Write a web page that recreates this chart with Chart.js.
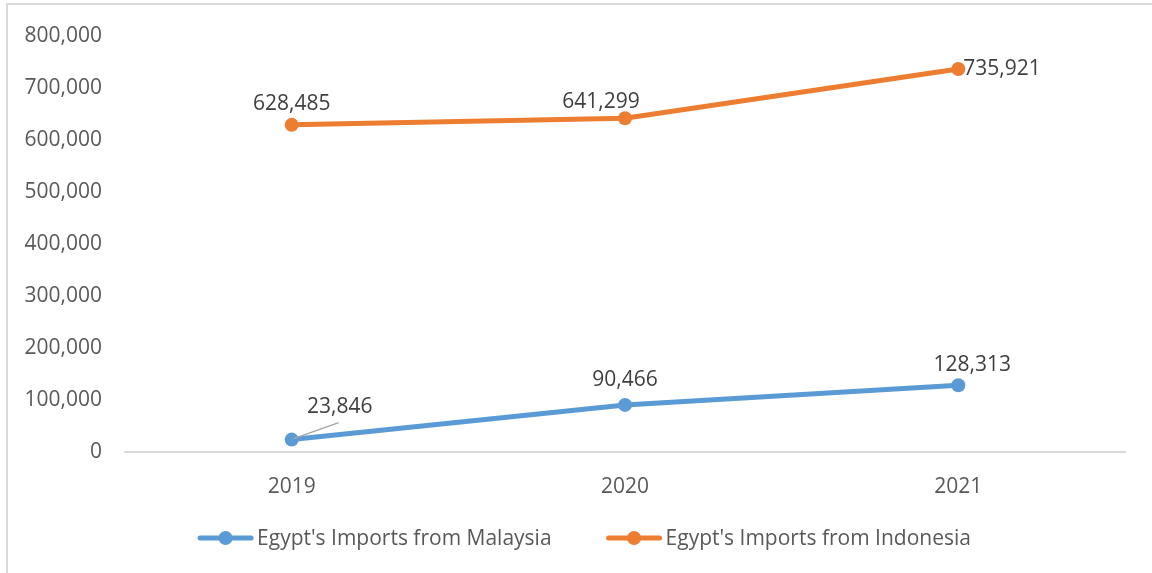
<!DOCTYPE html>
<html>
<head>
<meta charset="utf-8">
<script src="https://cdn.jsdelivr.net/npm/chart.js@4"></script>
<style>
    body { margin: 0; background: #ffffff; }
    #frame {
        position: absolute; left: 6px; top: 3px; width: 1146px; height: 570px;
        border-left: 2px solid #d9d9d9; border-top: 2px solid #d9d9d9;
    }
    #wrap { position: absolute; left: 0; top: 0; width: 1152px; height: 573px; }
</style>
</head>
<body>
<div id="frame"></div>
<div id="wrap"><canvas id="myChart" width="1152" height="573"></canvas></div>
<script>
// Yearly import values
const years = ["2019", "2020", "2021"];
const malaysia = [23846, 90466, 128313];
const indonesia = [628485, 641299, 735921];
const yTicks = [0, 100000, 200000, 300000, 400000, 500000, 600000, 700000, 800000];

const blue = "#5b9bd5";
const orange = "#ed7d31";
const fontFamily = "'Open Sans', 'Noto Sans', sans-serif";
const fontSize = 21;

// Where each value label sits relative to its point
const labelPlacement = [
    [{ dx: 48, dy: -33, leader: true }, { dx: 0, dy: -25 }, { dx: 14, dy: -20 }],
    [{ dx: 0, dy: -21 }, { dx: -24, dy: -16 }, { dx: 5, dy: 0, align: "left" }]
];

function fmt(v) {
    return v.toLocaleString("en-US");
}

// Value labels next to each point, one with a leader line
const valueLabels = {
    id: "valueLabels",
    afterDatasetsDraw(chart) {
        const ctx = chart.ctx;
        ctx.save();
        ctx.font = fontSize + "px " + fontFamily;
        ctx.fillStyle = "#404040";
        ctx.textBaseline = "middle";
        chart.data.datasets.forEach((ds, i) => {
            const meta = chart.getDatasetMeta(i);
            meta.data.forEach((pt, j) => {
                const p = labelPlacement[i][j];
                const x = pt.x + p.dx;
                const y = pt.y + p.dy;
                if (p.leader) {
                    ctx.strokeStyle = "#a6a6a6";
                    ctx.lineWidth = 1.5;
                    ctx.beginPath();
                    ctx.moveTo(pt.x + 2, pt.y - 1);
                    ctx.lineTo(x - 1, y + 16);
                    ctx.stroke();
                }
                ctx.textAlign = p.align || "center";
                ctx.fillText(fmt(ds.data[j]), x, y);
            });
        });
        ctx.restore();
    }
};

// Legend row under the axis: line-with-dot symbol then the series name
const lineLegend = {
    id: "lineLegend",
    afterDraw(chart) {
        const ctx = chart.ctx;
        const iconW = 57, textGap = 3, itemGap = 54, y = 538;
        ctx.save();
        ctx.font = fontSize + "px " + fontFamily;
        const items = chart.data.datasets.map(ds => ({
            text: ds.label,
            color: ds.borderColor,
            w: ctx.measureText(ds.label).width
        }));
        let total = itemGap * (items.length - 1);
        items.forEach(it => { total += iconW + textGap + it.w; });
        let x = chart.width / 2 + 8 - total / 2;
        items.forEach(it => {
            ctx.strokeStyle = it.color;
            ctx.fillStyle = it.color;
            ctx.lineWidth = 5;
            ctx.lineCap = "round";
            ctx.beginPath();
            ctx.moveTo(x + 3, y);
            ctx.lineTo(x + iconW - 3, y);
            ctx.stroke();
            ctx.beginPath();
            ctx.arc(x + iconW / 2, y, 7, 0, Math.PI * 2);
            ctx.fill();
            ctx.fillStyle = "#595959";
            ctx.textAlign = "left";
            ctx.textBaseline = "middle";
            ctx.fillText(it.text, x + iconW + textGap, y + 1);
            x += iconW + textGap + it.w + itemGap;
        });
        ctx.restore();
    }
};

const ctx = document.getElementById("myChart");
new Chart(ctx, {
    type: "line",
    data: {
        labels: years,
        datasets: [
            {
                label: "Egypt's Imports from Malaysia",
                data: malaysia,
                borderColor: blue,
                backgroundColor: blue,
                borderWidth: 5,
                pointRadius: 7,
                pointHoverRadius: 7,
                pointBorderWidth: 0,
                pointStyle: "circle"
            },
            {
                label: "Egypt's Imports from Indonesia",
                data: indonesia,
                borderColor: orange,
                backgroundColor: orange,
                borderWidth: 5,
                pointRadius: 7,
                pointHoverRadius: 7,
                pointBorderWidth: 0,
                pointStyle: "circle"
            }
        ]
    },
    options: {
        responsive: false,
        animation: false,
        layout: { padding: { top: 34, right: 27, bottom: 0, left: 0 } },
        scales: {
            x: {
                offset: true,
                grid: { display: false, drawTicks: false },
                border: { display: true, color: "#d9d9d9", width: 2 },
                ticks: { color: "#595959", font: { size: fontSize, family: fontFamily }, padding: 22 },
                // leaves room below for the legend row
                afterFit(scale) { scale.height = 121; }
            },
            y: {
                min: 0,
                max: 800000,
                grid: { display: false, drawTicks: false },
                border: { display: false },
                afterBuildTicks(scale) { scale.ticks = yTicks.map(v => ({ value: v })); },
                ticks: {
                    color: "#595959",
                    font: { size: fontSize, family: fontFamily },
                    padding: 23,
                    callback: v => fmt(v)
                },
                afterFit(scale) { scale.width = 125; }
            }
        },
        plugins: {
            tooltip: { enabled: false },
            legend: { display: false }
        }
    },
    plugins: [valueLabels, lineLegend]
});
</script>
</body>
</html>
